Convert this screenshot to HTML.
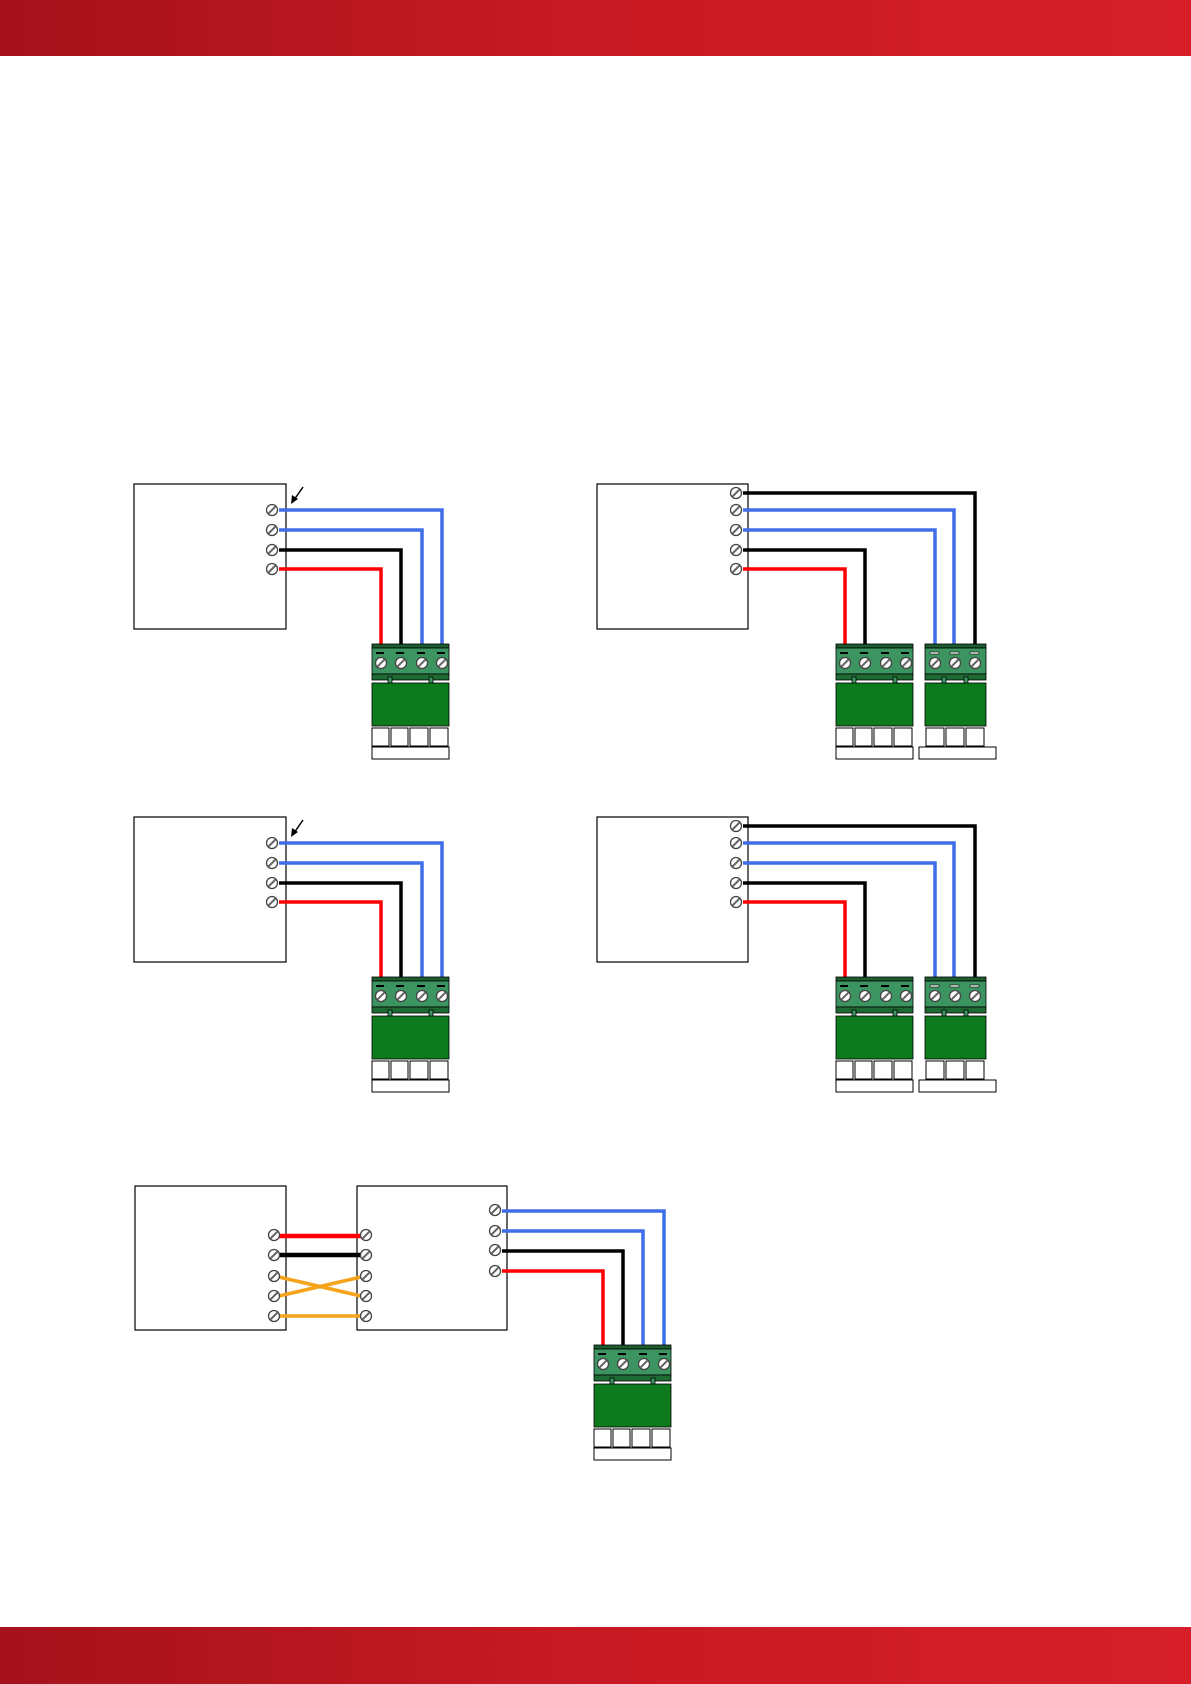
<!DOCTYPE html>
<html><head><meta charset="utf-8"><style>
html,body{margin:0;padding:0;background:#fff}
body{width:1191px;height:1684px;position:relative;overflow:hidden;font-family:"Liberation Sans",sans-serif}
.bar{position:absolute;left:0;width:1191px;background:linear-gradient(90deg,#a5121b,#c81a24 50%,#d61f28)}
</style></head><body>
<div class="bar" style="top:0;height:56px"></div>
<div class="bar" style="top:1627px;height:57px"></div>
<svg width="1191" height="1684" style="position:absolute;left:0;top:0">
<defs>
<g id="s"><circle r="5.5" fill="#fff" stroke="#444" stroke-width="1.3"/><line x1="-3.5" y1="3.5" x2="3.5" y2="-3.5" stroke="#666" stroke-width="2"/></g>
<g id="c4">
<rect x="0" y="0" width="77" height="4" fill="#1c5e2e" stroke="#000" stroke-width="0.8"/>
<rect x="0" y="4" width="77" height="26" fill="#3c9460" stroke="#000" stroke-width="0.8"/>
<rect x="0" y="30" width="77" height="6" fill="#1f6a32" stroke="#000" stroke-width="0.8"/>
<rect x="4" y="8" width="8" height="2" fill="#000"/><rect x="24" y="8" width="8" height="2" fill="#000"/><rect x="45" y="8" width="8" height="2" fill="#000"/><rect x="65" y="8" width="8" height="2" fill="#000"/>
<use href="#s" x="9" y="19"/><use href="#s" x="29" y="19"/><use href="#s" x="50" y="19"/><use href="#s" x="70" y="19"/>
<rect x="16" y="33" width="4" height="12" fill="#3c9460" stroke="#000" stroke-width="0.8"/>
<rect x="57" y="33" width="4" height="12" fill="#3c9460" stroke="#000" stroke-width="0.8"/>
<rect x="0" y="39" width="77" height="43" fill="#0e7a1e" stroke="#000" stroke-width="0.8"/>
<rect x="0" y="84" width="17" height="18" fill="#fff" stroke="#000"/><rect x="19" y="84" width="17" height="18" fill="#fff" stroke="#000"/><rect x="38" y="84" width="18" height="18" fill="#fff" stroke="#000"/><rect x="58" y="84" width="18" height="18" fill="#fff" stroke="#000"/>
<rect x="0" y="103" width="77" height="12" fill="#fff" stroke="#000"/>
</g>
<g id="c3">
<rect x="0" y="0" width="61" height="4" fill="#1c5e2e" stroke="#000" stroke-width="0.8"/>
<rect x="0" y="4" width="61" height="26" fill="#3c9460" stroke="#000" stroke-width="0.8"/>
<rect x="0" y="30" width="61" height="6" fill="#1f6a32" stroke="#000" stroke-width="0.8"/>
<rect x="5" y="8" width="9" height="2" fill="#fff" stroke="#000" stroke-width="0.6"/><rect x="25" y="8" width="9" height="2" fill="#fff" stroke="#000" stroke-width="0.6"/><rect x="45" y="8" width="9" height="2" fill="#fff" stroke="#000" stroke-width="0.6"/>
<use href="#s" x="10" y="19"/><use href="#s" x="30" y="19"/><use href="#s" x="50" y="19"/>
<rect x="17" y="33" width="4" height="12" fill="#3c9460" stroke="#000" stroke-width="0.8"/>
<rect x="39" y="33" width="4" height="12" fill="#3c9460" stroke="#000" stroke-width="0.8"/>
<rect x="0" y="39" width="61" height="43" fill="#0e7a1e" stroke="#000" stroke-width="0.8"/>
<rect x="1" y="84" width="18" height="18" fill="#fff" stroke="#000"/><rect x="21" y="84" width="18" height="18" fill="#fff" stroke="#000"/><rect x="41" y="84" width="18" height="18" fill="#fff" stroke="#000"/>
<rect x="-6" y="103" width="77" height="12" fill="#fff" stroke="#000"/>
</g>
<g id="L">
<rect x="134" y="484" width="152" height="145" fill="#fff" stroke="#000" stroke-width="1.2"/>
<g fill="none" stroke-width="3.5">
<polyline points="279,510 442,510 442,646" stroke="#3f6fe8"/>
<polyline points="279,530 422,530 422,646" stroke="#3f6fe8"/>
<polyline points="279,550 401,550 401,646" stroke="#000"/>
<polyline points="279,569 381,569 381,646" stroke="#f00"/>
</g>
<use href="#s" x="272" y="510"/><use href="#s" x="272" y="530"/><use href="#s" x="272" y="550"/><use href="#s" x="272" y="569"/>
<line x1="303" y1="487" x2="294" y2="500" stroke="#000" stroke-width="1.5"/><polygon points="291,504 292,495 298,499" fill="#000"/>
<use href="#c4" x="372" y="644"/>
</g>
<g id="R">
<rect x="597" y="484" width="151" height="145" fill="#fff" stroke="#000" stroke-width="1.2"/>
<g fill="none" stroke-width="3.5">
<polyline points="743,493 975,493 975,646" stroke="#000"/>
<polyline points="743,510 954,510 954,646" stroke="#3f6fe8"/>
<polyline points="743,530 935,530 935,646" stroke="#3f6fe8"/>
<polyline points="743,550 865,550 865,646" stroke="#000"/>
<polyline points="743,569 845,569 845,646" stroke="#f00"/>
</g>
<use href="#s" x="736" y="493"/><use href="#s" x="736" y="510"/><use href="#s" x="736" y="530"/><use href="#s" x="736" y="550"/><use href="#s" x="736" y="569"/>
<use href="#c4" x="836" y="644"/>
<use href="#c3" x="925" y="644"/>
</g>
</defs>
<use href="#L"/><use href="#R"/>
<use href="#L" y="333"/><use href="#R" y="333"/>
<rect x="135" y="1186" width="151" height="144" fill="#fff" stroke="#000" stroke-width="1.2"/>
<rect x="357" y="1186" width="150" height="144" fill="#fff" stroke="#000" stroke-width="1.2"/>
<g fill="none" stroke-width="3.5">
<line x1="279" y1="1236" x2="361" y2="1236" stroke="#f00" stroke-width="4.5"/>
<line x1="279" y1="1255" x2="361" y2="1255" stroke="#000" stroke-width="4.5"/>
<line x1="279" y1="1277" x2="361" y2="1296" stroke="#f5a31a"/>
<line x1="279" y1="1296" x2="361" y2="1277" stroke="#f5a31a"/>
<line x1="279" y1="1316" x2="361" y2="1316" stroke="#f5a31a"/>
<polyline points="502,1211 664,1211 664,1347" stroke="#3f6fe8"/>
<polyline points="502,1231 643,1231 643,1347" stroke="#3f6fe8"/>
<polyline points="502,1251 623,1251 623,1347" stroke="#000"/>
<polyline points="502,1271 603,1271 603,1347" stroke="#f00"/>
</g>
<use href="#s" x="274" y="1235"/><use href="#s" x="274" y="1255"/><use href="#s" x="274" y="1276"/><use href="#s" x="274" y="1296"/><use href="#s" x="274" y="1316"/>
<use href="#s" x="366" y="1235"/><use href="#s" x="366" y="1255"/><use href="#s" x="366" y="1276"/><use href="#s" x="366" y="1296"/><use href="#s" x="366" y="1316"/>
<use href="#s" x="495" y="1210"/><use href="#s" x="495" y="1231"/><use href="#s" x="495" y="1250"/><use href="#s" x="495" y="1271"/>
<use href="#c4" x="594" y="1345"/>
</svg>
</body></html>
